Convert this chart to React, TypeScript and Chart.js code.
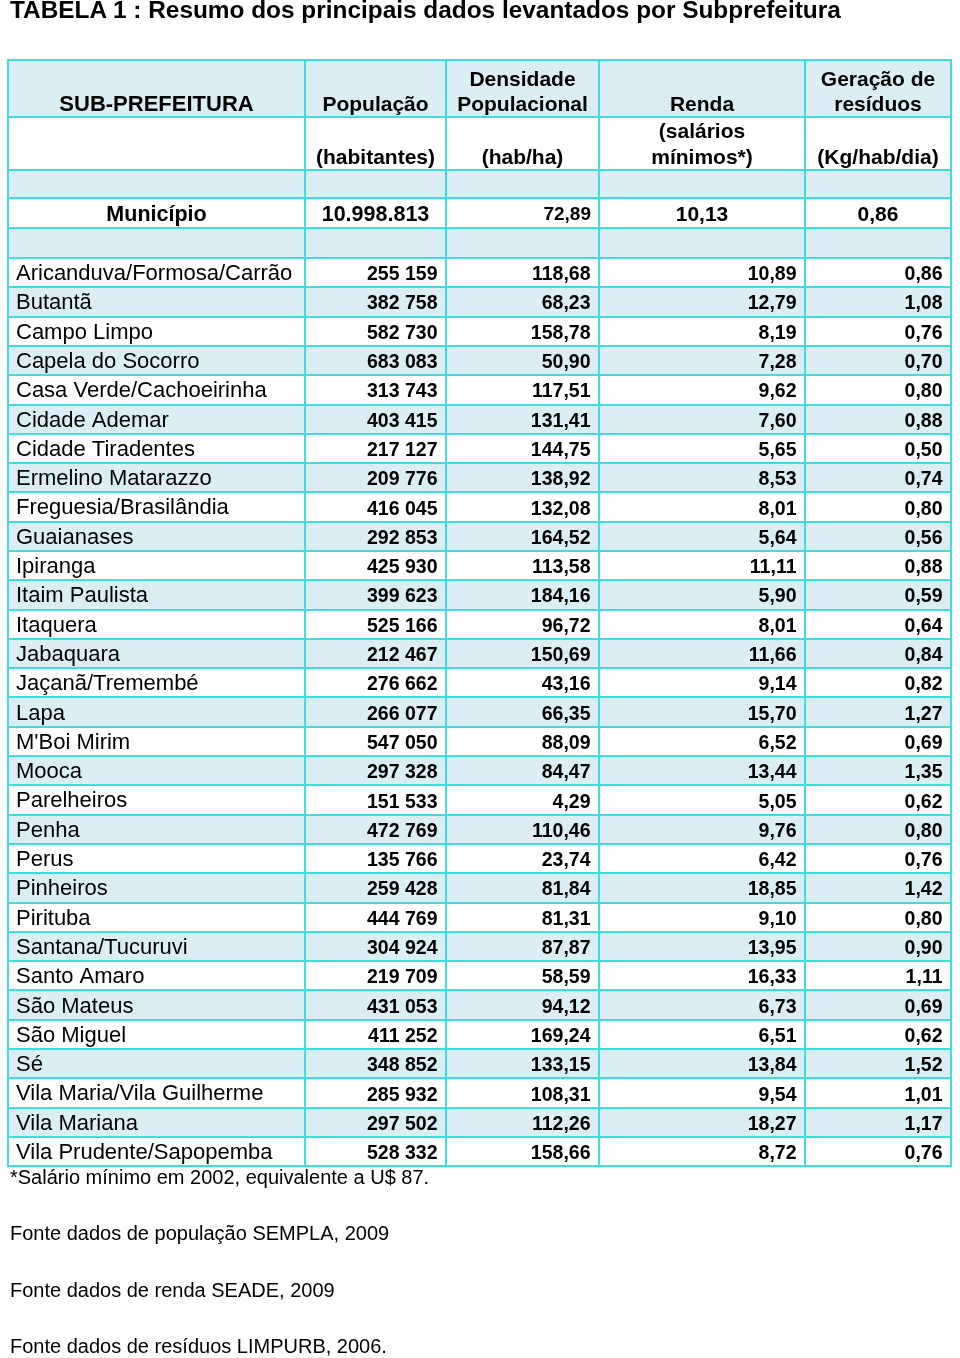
import React, { useEffect, useRef } from "react";
import { Chart, registerables } from "chart.js";

Chart.register(...registerables);

// ---------------- data ----------------
const TITLE = "TABELA 1 : Resumo dos principais dados levantados por Subprefeitura";

const HEADER_MAIN: string[][] = [
  ["SUB-PREFEITURA"],
  ["População"],
  ["Densidade", "Populacional"],
  ["Renda"],
  ["Geração de", "resíduos"],
];
const HEADER_UNITS: string[][] = [
  [],
  ["(habitantes)"],
  ["(hab/ha)"],
  ["(salários", "mínimos*)"],
  ["(Kg/hab/dia)"],
];

const TOTAL_LABEL = "Município";
const TOTAL_POPULATION = "10.998.813";
const TOTAL_DENSITY = 72.89;
const TOTAL_INCOME = 10.13;
const TOTAL_WASTE = 0.86;

const subprefeituras = [
  "Aricanduva/Formosa/Carrão",
  "Butantã",
  "Campo Limpo",
  "Capela do Socorro",
  "Casa Verde/Cachoeirinha",
  "Cidade Ademar",
  "Cidade Tiradentes",
  "Ermelino Matarazzo",
  "Freguesia/Brasilândia",
  "Guaianases",
  "Ipiranga",
  "Itaim Paulista",
  "Itaquera",
  "Jabaquara",
  "Jaçanã/Tremembé",
  "Lapa",
  "M'Boi Mirim",
  "Mooca",
  "Parelheiros",
  "Penha",
  "Perus",
  "Pinheiros",
  "Pirituba",
  "Santana/Tucuruvi",
  "Santo Amaro",
  "São Mateus",
  "São Miguel",
  "Sé",
  "Vila Maria/Vila Guilherme",
  "Vila Mariana",
  "Vila Prudente/Sapopemba",
];

const populacao = [
  255159, 382758, 582730, 683083, 313743, 403415, 217127, 209776, 416045, 292853,
  425930, 399623, 525166, 212467, 276662, 266077, 547050, 297328, 151533, 472769,
  135766, 259428, 444769, 304924, 219709, 431053, 411252, 348852, 285932, 297502,
  528332,
];

const densidade = [
  118.68, 68.23, 158.78, 50.9, 117.51, 131.41, 144.75, 138.92, 132.08, 164.52,
  113.58, 184.16, 96.72, 150.69, 43.16, 66.35, 88.09, 84.47, 4.29, 110.46,
  23.74, 81.84, 81.31, 87.87, 58.59, 94.12, 169.24, 133.15, 108.31, 112.26,
  158.66,
];

const renda = [
  10.89, 12.79, 8.19, 7.28, 9.62, 7.6, 5.65, 8.53, 8.01, 5.64,
  11.11, 5.9, 8.01, 11.66, 9.14, 15.7, 6.52, 13.44, 5.05, 9.76,
  6.42, 18.85, 9.1, 13.95, 16.33, 6.73, 6.51, 13.84, 9.54, 18.27,
  8.72,
];

const residuos = [
  0.86, 1.08, 0.76, 0.7, 0.8, 0.88, 0.5, 0.74, 0.8, 0.56,
  0.88, 0.59, 0.64, 0.84, 0.82, 1.27, 0.69, 1.35, 0.62, 0.8,
  0.76, 1.42, 0.8, 0.9, 1.11, 0.69, 0.62, 1.52, 1.01, 1.17,
  0.76,
];

const FOOTNOTES = [
  "*Salário mínimo em 2002, equivalente a U$ 87.",
  "Fonte dados de população SEMPLA, 2009",
  "Fonte dados de renda SEADE, 2009",
  "Fonte dados de resíduos LIMPURB, 2006.",
];

// ---------------- layout ----------------
const W = 960;
const H = 1358;
const FONT = "'Liberation Sans', Arial, Helvetica, sans-serif";
const LINE_COLOR = "#3fdde0";
const BAND_COLOR = "#dbeef3";
const TABLE_LEFT = 8;
const TABLE_TOP = 60;
const COL_EDGES = [0, 297, 438, 591, 797, 943];
const TABLE_W = COL_EDGES[COL_EDGES.length - 1];
const TOP_ROW_HEIGHTS = [57, 53, 28, 30, 30];
const DATA_ROW_HEIGHT = 29.3;
const FOOT_BASELINES = [1184, 1240, 1297, 1353];

const fmtDec = (v: number) => v.toFixed(2).replace(".", ",");
const fmtPop = (v: number) => String(v).replace(/\B(?=(\d{3})+(?!\d))/g, " ");

function rowEdges(): number[] {
  const e = [0];
  TOP_ROW_HEIGHTS.forEach((h) => e.push(e[e.length - 1] + h));
  subprefeituras.forEach(() => e.push(e[e.length - 1] + DATA_ROW_HEIGHT));
  return e;
}
const ROW_EDGES = rowEdges();
const TABLE_H = ROW_EDGES[ROW_EDGES.length - 1];

const tablePlugin = {
  id: "tableCells",
  afterDraw(chart: any) {
    const { ctx } = chart;
    const xs = chart.scales.x;
    const ys = chart.scales.y;
    const px = (v: number) => xs.getPixelForValue(v);
    const py = (v: number) => ys.getPixelForValue(v);
    const x0 = px(0);
    const x1 = px(TABLE_W);
    ctx.save();

    // row bands
    for (let r = 0; r < ROW_EDGES.length - 1; r++) {
      ctx.fillStyle = r % 2 === 0 ? BAND_COLOR : "#ffffff";
      const ya = py(ROW_EDGES[r]);
      const yb = py(ROW_EDGES[r + 1]);
      ctx.fillRect(x0, ya, x1 - x0, yb - ya);
    }

    // grid lines
    ctx.strokeStyle = LINE_COLOR;
    ctx.lineWidth = 2;
    ctx.beginPath();
    ROW_EDGES.forEach((e) => {
      const y = Math.round(py(e));
      ctx.moveTo(x0 - 1, y);
      ctx.lineTo(x1 + 1, y);
    });
    COL_EDGES.forEach((e) => {
      const x = Math.round(px(e));
      ctx.moveTo(x, py(0) - 1);
      ctx.lineTo(x, py(TABLE_H) + 1);
    });
    ctx.stroke();

    ctx.fillStyle = "#000000";
    ctx.textBaseline = "alphabetic";
    const colCenter = (c: number) => (px(COL_EDGES[c]) + px(COL_EDGES[c + 1])) / 2;
    const colRight = (c: number) => px(COL_EDGES[c + 1]) - 8.5;
    const colLeft = (c: number) => px(COL_EDGES[c]) + 8;
    const text = (s: string, x: number, cy: number, size: number, bold: boolean, align: CanvasTextAlign) => {
      ctx.font = `${bold ? "bold " : ""}${size}px ${FONT}`;
      ctx.textAlign = align;
      ctx.fillText(s, x, cy + size * 0.358);
    };

    // header (bottom aligned lines)
    const LINE_H = 25.5;
    HEADER_MAIN.forEach((lines, c) => {
      const bottom = py(ROW_EDGES[1]) - 13.5;
      lines.forEach((s, i) => {
        const cy = bottom - (lines.length - 1 - i) * LINE_H;
        text(s, colCenter(c), cy, c === 0 ? 22 : 21, true, "center");
      });
    });
    HEADER_UNITS.forEach((lines, c) => {
      const bottom = py(ROW_EDGES[2]) - 14;
      lines.forEach((s, i) => {
        const cy = bottom - (lines.length - 1 - i) * LINE_H;
        text(s, colCenter(c), cy, 21, true, "center");
      });
    });

    // total row
    const tc = (py(ROW_EDGES[3]) + py(ROW_EDGES[4])) / 2 + 0.5;
    text(TOTAL_LABEL, colCenter(0), tc, 21.5, true, "center");
    text(TOTAL_POPULATION, colCenter(1), tc, 21.5, true, "center");
    text(fmtDec(TOTAL_DENSITY), colRight(2) + 0.5, tc, 19, true, "right");
    text(fmtDec(TOTAL_INCOME), colCenter(3), tc, 21, true, "center");
    text(fmtDec(TOTAL_WASTE), colCenter(4), tc, 21, true, "center");

    // data rows
    subprefeituras.forEach((name, i) => {
      const r = TOP_ROW_HEIGHTS.length + i;
      const cy = (py(ROW_EDGES[r]) + py(ROW_EDGES[r + 1])) / 2;
      text(name, colLeft(0), cy - 0.5, 22, false, "left");
      text(fmtPop(populacao[i]), colRight(1), cy + 0.5, 19.5, true, "right");
      text(fmtDec(densidade[i]), colRight(2), cy + 0.5, 19.5, true, "right");
      text(fmtDec(renda[i]), colRight(3), cy + 0.5, 19.5, true, "right");
      text(fmtDec(residuos[i]), colRight(4), cy + 0.5, 19.5, true, "right");
    });

    ctx.restore();
  },
};

export default function App() {
  const canvasRef = useRef<HTMLCanvasElement | null>(null);

  useEffect(() => {
    if (!canvasRef.current) return;
    const chart = new Chart(canvasRef.current, {
      type: "scatter",
      data: { datasets: [] },
      options: {
        animation: false,
        responsive: false,
        devicePixelRatio: 1,
        events: [],
        layout: {
          padding: {
            left: TABLE_LEFT,
            top: TABLE_TOP,
            right: W - TABLE_LEFT - TABLE_W,
            bottom: H - TABLE_TOP - TABLE_H,
          },
        },
        plugins: {
          legend: { display: false },
          tooltip: { enabled: false },
          title: { display: false },
        },
        scales: {
          x: { type: "linear", display: false, min: 0, max: TABLE_W },
          y: { type: "linear", display: false, min: 0, max: TABLE_H, reverse: true },
        },
      },
      plugins: [tablePlugin],
    });
    return () => chart.destroy();
  }, []);

  return (
    <div style={{ position: "absolute", left: 0, top: 0, width: W, height: H, background: "#ffffff" }}>
      <canvas ref={canvasRef} width={W} height={H} style={{ display: "block", width: W, height: H }} />
      <div
        style={{
          position: "absolute",
          left: 10,
          top: -2,
          fontFamily: FONT,
          fontWeight: "bold",
          fontSize: 24.4,
          lineHeight: "24px",
          whiteSpace: "nowrap",
          color: "#000",
        }}
      >
        {TITLE}
      </div>
      {FOOTNOTES.map((f, i) => (
        <div
          key={i}
          style={{
            position: "absolute",
            left: 10,
            top: FOOT_BASELINES[i] - 17,
            fontFamily: FONT,
            fontSize: 20,
            lineHeight: "20px",
            whiteSpace: "nowrap",
            color: "#000",
          }}
        >
          {f}
        </div>
      ))}
    </div>
  );
}
